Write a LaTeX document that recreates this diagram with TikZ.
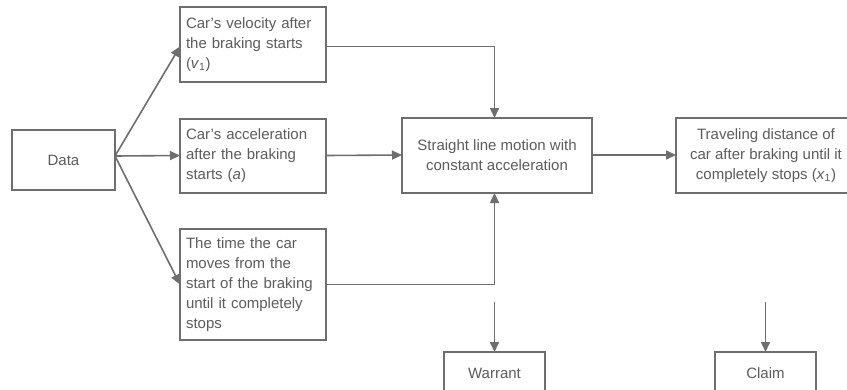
\documentclass[tikz,border=0pt]{standalone}
\usepackage{fontspec}
\setmainfont{Liberation Sans}
\usetikzlibrary{arrows.meta,calc}
\definecolor{linegray}{HTML}{6E6E6E}
\definecolor{textgray}{HTML}{5C5C5C}
\begin{document}
\begin{tikzpicture}[x=1pt,y=-1pt,
  box/.style={draw=linegray,line width=1.6pt,rectangle,inner sep=0pt,outer sep=0pt,
    text=textgray,font=\fontsize{15}{20}\selectfont},
  lbox/.style={box,align=left,text width=134pt},
  cbox/.style={box,align=center},
  conn/.style={draw=linegray,line width=1.6pt},
  arr/.style={conn,-{Triangle[length=10pt,width=9pt]}}]
\useasboundingbox (0,0) rectangle (847,389);
\clip (0,0) rectangle (847,389);
\fill[white] (0,0) rectangle (847,389);
\node[cbox,anchor=north west,minimum width=103pt,minimum height=60pt] (data) at (12,130) {Data};
\node[lbox,anchor=north west,minimum width=146pt,minimum height=75pt] (vel) at (180,7)
  {Car’s velocity after\\the braking starts\\(\textit{v}\textsubscript{1})};
\node[lbox,anchor=north west,minimum width=146pt,minimum height=74pt] (acc) at (180,119)
  {Car’s acceleration\\after the braking\\starts (\textit{a})};
\node[lbox,anchor=north west,minimum width=146pt,minimum height=111pt] (tim) at (180,229)
  {The time the car\\moves from the\\start of the braking\\until it completely\\stops};
\node[cbox,anchor=north west,minimum width=190pt,minimum height=75pt] (mot) at (402,118)
  {Straight line motion with\\constant acceleration};
\node[cbox,anchor=north west,minimum width=180pt,minimum height=75pt] (dist) at (676,118)
  {Traveling distance of\\car after braking until it\\completely stops (\textit{x}\textsubscript{1})};
\node[cbox,anchor=north west,minimum width=101pt,minimum height=42pt] (war) at (444,352) {Warrant};
\node[cbox,anchor=north west,minimum width=101pt,minimum height=42pt] (cla) at (715,352) {Claim};
\coordinate (dsrc) at ($(data.east)+(0,-4)$);
\coordinate (wtop) at (494.5,302);
\coordinate (ctop) at (765.5,302);
\draw[arr] (dsrc) -- ($(vel.west)+(0,2)$);
\draw[arr] (dsrc) -- ($(acc.west)+(0,-0.5)$);
\draw[arr] (dsrc) -- (tim.west);
\draw[arr] ($(vel.east)+(0,2)$) -| ($(mot.north)+(-2.5,0)$);
\draw[arr] ($(acc.east)+(0,-0.5)$) -- ($(mot.west)+(0,-0.5)$);
\draw[arr] (tim.east) -| ($(mot.south)+(-2.5,0)$);
\draw[arr] ($(mot.east)+(0,-0.5)$) -- ($(dist.west)+(0,-0.5)$);
\draw[arr] (wtop) -- (war.north);
\draw[arr] (ctop) -- (cla.north);
\end{tikzpicture}
\end{document}
